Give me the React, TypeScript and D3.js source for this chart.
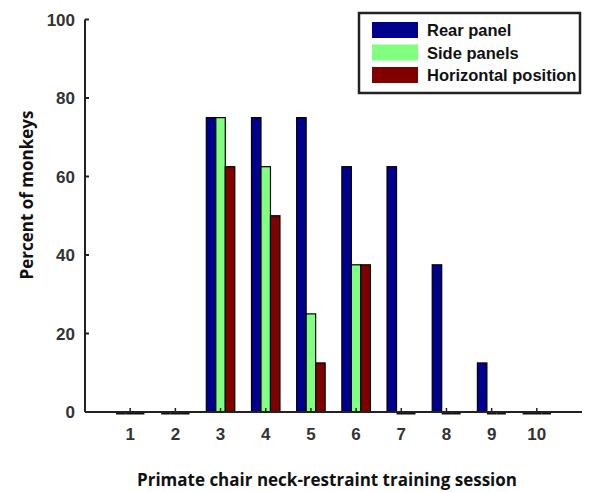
import React from "react";
import * as d3 from "d3";

const sessions = [1, 2, 3, 4, 5, 6, 7, 8, 9, 10];
const rearPanel = [0, 0, 75, 75, 75, 62.5, 62.5, 37.5, 12.5, 0];
const sidePanels = [0, 0, 75, 62.5, 25, 37.5, 0, 0, 0, 0];
const horizontalPosition = [0, 0, 62.5, 50, 12.5, 37.5, 0, 0, 0, 0];
const seriesNames = ["Rear panel", "Side panels", "Horizontal position"];
const seriesColors = ["#00008f", "#80ff80", "#800000"];
const yTicks = [0, 20, 40, 60, 80, 100];

const W = 590;
const H = 492;
const left = 85;
const right = 582;
const top = 19.5;
const bottom = 412;

export default function App() {
  const x = d3.scaleLinear().domain([0, 11]).range([left, right]);
  const y = d3.scaleLinear().domain([0, 100]).range([bottom, top]);
  const series = [rearPanel, sidePanels, horizontalPosition];
  const bw = 0.21;
  const offsets = [-bw, 0, bw];
  const tickFont = "'Liberation Sans', Arial, sans-serif";
  const titleFont = "'Open Sans', 'Noto Sans', sans-serif";

  return (
    <svg width={W} height={H} style={{ position: "absolute", left: 0, top: 0, background: "#fff" }}>
      {/* bars */}
      {series.map((vals, si) =>
        vals.map((v, i) => {
          const cx = x(sessions[i]) + (x(offsets[si]) - x(0));
          const x0 = cx - (x(bw) - x(0)) / 2;
          const x1 = cx + (x(bw) - x(0)) / 2;
          if (v === 0) {
            return (
              <line key={`${si}-${i}`} x1={x0} x2={x1} y1={y(0) + 1} y2={y(0) + 1} stroke="#111" strokeWidth={3} />
            );
          }
          return (
            <rect
              key={`${si}-${i}`}
              x={x0}
              y={y(v)}
              width={x1 - x0}
              height={y(0) - y(v)}
              fill={seriesColors[si]}
              stroke="#000"
              strokeWidth={1.2}
            />
          );
        })
      )}
      {/* axes */}
      <line x1={x(0)} x2={x(0)} y1={y(100)} y2={y(0)} stroke="#222" strokeWidth={2} />
      <line x1={x(0)} x2={x(11)} y1={y(0)} y2={y(0)} stroke="#222" strokeWidth={2} />
      {yTicks.map((t) => (
        <g key={t}>
          <line x1={x(0)} x2={x(0) + 4} y1={y(t)} y2={y(t)} stroke="#222" strokeWidth={2} />
          <text x={75} y={y(t)} dy="0.36em" textAnchor="end" fontFamily={tickFont} fontWeight="bold" fontSize={17} fill="#333">
            {t}
          </text>
        </g>
      ))}
      {sessions.map((s) => (
        <g key={s}>
          <line x1={x(s)} x2={x(s)} y1={y(0)} y2={y(0) - 4} stroke="#222" strokeWidth={1.5} />
          <text x={x(s)} y={440} textAnchor="middle" fontFamily={tickFont} fontWeight="bold" fontSize={17} fill="#333">
            {s}
          </text>
        </g>
      ))}
      {/* axis titles */}
      <text x={327} y={486} textAnchor="middle" fontFamily={titleFont} fontWeight="bold" fontSize={17} fill="#111">
        Primate chair neck-restraint training session
      </text>
      <text
        transform={`translate(33, 195) rotate(-90)`}
        textAnchor="middle"
        fontFamily={titleFont}
        fontWeight="bold"
        fontSize={17}
        fill="#111"
      >
        Percent of monkeys
      </text>
      {/* legend */}
      <rect x={359} y={13} width={221} height={80} fill="#fff" stroke="#222" strokeWidth={2.5} />
      {seriesNames.map((n, i) => (
        <g key={n}>
          <rect x={372} y={22 + i * 22.5} width={46} height={16} fill={seriesColors[i]} />
          <text x={427} y={36 + i * 22.5} fontFamily={tickFont} fontWeight="bold" fontSize={16.5} fill="#111">
            {n}
          </text>
        </g>
      ))}
    </svg>
  );
}
